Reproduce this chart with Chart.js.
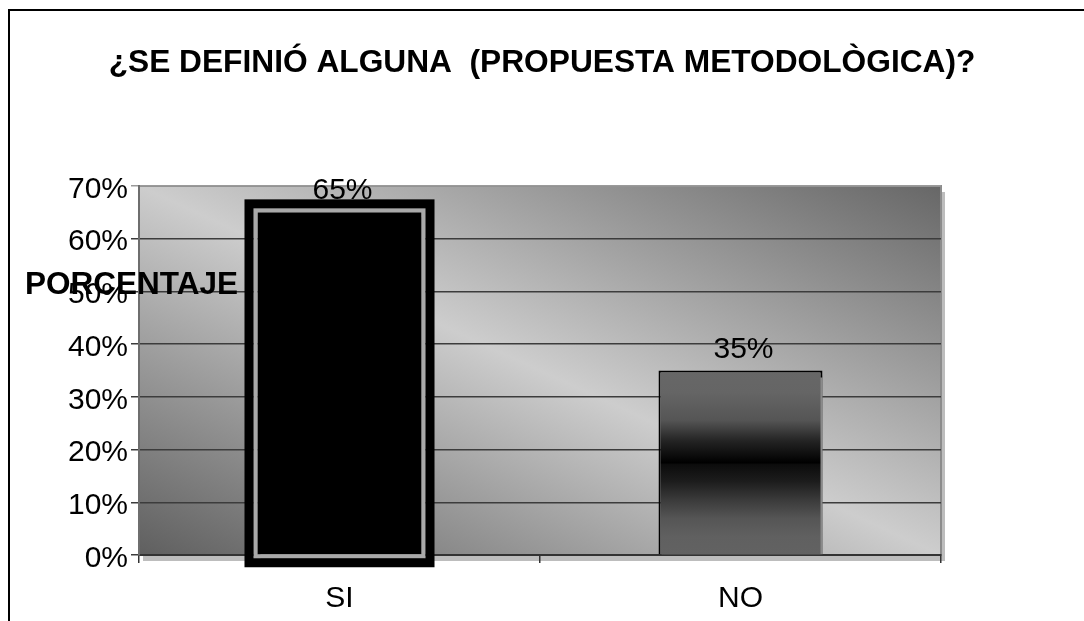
<!DOCTYPE html>
<html lang="es">
<head>
<meta charset="UTF-8">
<title>¿Se definió alguna propuesta metodológica?</title>
<script src="https://cdn.jsdelivr.net/npm/chart.js"></script>
<style>
  html, body { margin: 0; padding: 0; background: #fff; overflow: hidden; }
  #frame { position: absolute; left: 8px; top: 9px; width: 1100px; height: 700px;
           border-top: 2px solid #000; border-left: 2px solid #000; }
  #wrap { position: absolute; left: 0; top: 0; width: 1084px; height: 621px; }
</style>
</head>
<body>
<div id="frame"></div>
<div id="wrap"><canvas id="chart"></canvas></div>
<script>
// data
const titleText = '¿SE DEFINIÓ ALGUNA  (PROPUESTA METODOLÒGICA)?';
const axisTitle = 'PORCENTAJE';
const categories = ['SI', 'NO'];
const percentages = [65, 35];
const valueLabels = ['65%', '35%'];

const FONT = '"Liberation Sans", Arial, sans-serif';
Chart.defaults.font.family = FONT;
Chart.defaults.color = '#000';

// grey gradient plot area with a drop shadow
const plotBackground = {
  id: 'plotBackground',
  beforeDraw(chart) {
    const { ctx, chartArea: a } = chart;
    const w = a.width, h = a.height;
    const cx = a.left + w / 2, cy = a.top + h / 2;
    const k = (w * h) / (w * w + h * h);
    ctx.save();
    ctx.fillStyle = '#bdbdbd';
    ctx.fillRect(a.left + 4, a.top + 6, w, h);
    const g = ctx.createLinearGradient(cx - k * h, cy + k * w, cx + k * h, cy - k * w);
    g.addColorStop(0, '#5f5f5f');
    g.addColorStop(0.5, '#cdcdcd');
    g.addColorStop(1, '#676767');
    ctx.fillStyle = g;
    ctx.fillRect(a.left, a.top, w, h);
    ctx.strokeStyle = '#8c8c8c';
    ctx.lineWidth = 2;
    ctx.strokeRect(a.left, a.top, w, h);
    ctx.restore();
  }
};

// bar shadows, the heavy frame round the first bar, value labels, titles
const barExtras = {
  id: 'barExtras',
  beforeDatasetsDraw(chart) {
    const ctx = chart.ctx;
    ctx.save();
    ctx.shadowColor = '#8a8a8a';
    ctx.shadowOffsetX = 3;
    ctx.shadowOffsetY = 5;
  },
  afterDatasetsDraw(chart) {
    const ctx = chart.ctx;
    ctx.restore();
    const bars = chart.getDatasetMeta(0).data;

    const b = bars[0].getProps(['x', 'y', 'base', 'width'], true);
    const l = b.x - b.width / 2, hgt = b.base - b.y;
    ctx.save();
    ctx.strokeStyle = '#a9a9a9';
    ctx.lineWidth = 4;
    ctx.strokeRect(l - 2, b.y - 2, b.width + 4, hgt + 4);
    ctx.strokeStyle = '#000';
    ctx.lineWidth = 9;
    ctx.strokeRect(l - 8.5, b.y - 8.5, b.width + 17, hgt + 17);

    ctx.fillStyle = '#000';
    ctx.font = '30px ' + FONT;
    ctx.textAlign = 'center';
    ctx.textBaseline = 'alphabetic';
    bars.forEach((bar, i) => {
      const p = bar.getProps(['x', 'y'], true);
      ctx.fillText(valueLabels[i], p.x + 3, p.y - 13);
    });
    ctx.restore();
  },
  afterDraw(chart) {
    const { ctx, chartArea: a, width } = chart;
    ctx.save();
    ctx.fillStyle = '#000';
    ctx.textBaseline = 'alphabetic';
    ctx.font = 'bold 31.7px ' + FONT;
    ctx.textAlign = 'center';
    ctx.fillText(titleText, width / 2, 72);
    ctx.font = 'bold 31.5px ' + FONT;
    ctx.textAlign = 'left';
    ctx.fillText(axisTitle, a.left - 114, a.top + 108);
    ctx.restore();
  }
};

function noGradient(c) {
  if (c.dataIndex === 0) return '#000';
  const chart = c.chart;
  if (!chart.chartArea) return '#444';
  const ys = chart.scales.y;
  const top = ys.getPixelForValue(c.raw), bot = ys.getPixelForValue(0);
  const g = chart.ctx.createLinearGradient(0, top, 0, bot);
  g.addColorStop(0, '#676767');
  g.addColorStop(0.12, '#656565');
  g.addColorStop(0.27, '#555555');
  g.addColorStop(0.38, '#242424');
  g.addColorStop(0.5, '#000000');
  g.addColorStop(0.51, '#0c0c0c');
  g.addColorStop(0.6, '#1c1c1c');
  g.addColorStop(0.7, '#3a3a3a');
  g.addColorStop(0.8, '#555555');
  g.addColorStop(0.9, '#606060');
  g.addColorStop(1, '#626262');
  return g;
}

new Chart(document.getElementById('chart'), {
  type: 'bar',
  data: {
    labels: categories,
    datasets: [{
      data: percentages,
      backgroundColor: noGradient,
      borderColor: '#000',
      borderWidth: [0, 2],
      barPercentage: 0.409,
      categoryPercentage: 1,
      clip: false
    }]
  },
  options: {
    responsive: true,
    maintainAspectRatio: false,
    animation: false,
    layout: { padding: { left: 10, right: 143, top: 186, bottom: 0 } },
    plugins: {
      legend: { display: false },
      tooltip: { enabled: false },
      title: { display: false }
    },
    scales: {
      x: {
        grid: { offset: true, drawOnChartArea: false, tickLength: 8, color: '#333', lineWidth: 1.5 },
        border: { color: '#333', width: 2 },
        ticks: { color: '#000', font: { size: 30 }, padding: 18 },
        afterFit: s => { s.height = 66; }
      },
      y: {
        min: 0,
        max: 70,
        ticks: { stepSize: 10, callback: v => v + '%', color: '#000', font: { size: 30 }, padding: 3, labelOffset: 3.5 },
        grid: {
          color: c => (c.tick && c.tick.value === 70 ? '#9a9a9a' : '#3c3c3c'),
          lineWidth: 1.5,
          tickLength: 8
        },
        border: { color: '#6e6e6e', width: 2 },
        afterFit: s => { s.width = 129; }
      }
    }
  },
  plugins: [plotBackground, barExtras]
});
</script>
</body>
</html>
